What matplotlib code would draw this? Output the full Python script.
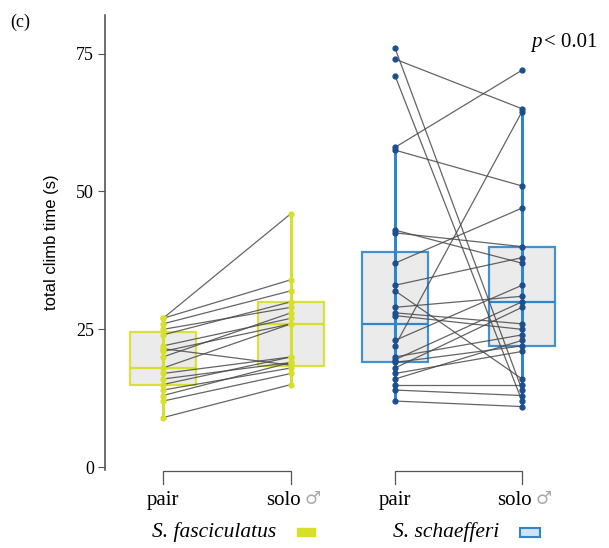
import matplotlib
matplotlib.use("Agg")
import matplotlib.pyplot as plt
from matplotlib.patches import Rectangle

# paired climb times (s): pair trial vs solo male
fas_pair = [27, 27, 26, 25, 24, 22, 21, 20, 21.5, 18, 17, 16, 15, 14, 13, 12, 9]
fas_solo = [46, 34, 32, 29, 30, 27, 26, 28, 18.5, 26, 20, 19, 20, 18, 19, 17, 15]

sch_pair = [76, 74, 71, 58, 57.5, 43, 42.5, 37, 33, 32, 29, 28, 27.5, 23,
            22, 20, 19.5, 19, 18, 17, 16, 15, 14, 12]
sch_solo = [14, 65, 12, 72, 51, 37, 40, 47, 38, 16, 31, 26, 25, 33,
            64.5, 24, 30, 22, 29, 21, 23, 15, 13, 11]

# box summaries: q1, median, q3, whisker low, whisker high
fas_box = {"pair": [15, 18, 24.5, 9, 27], "solo": [18.3, 26, 30, 15, 46]}
sch_box = {"pair": [19, 26, 39, 12, 58], "solo": [22, 30, 40, 11, 65]}

groups = ["pair", "solo"]
species = ["S. fasciculatus", "S. schaefferi"]

yellow = "#d8df2a"
blue = "#2f86cc"
dark_blue = "#1d4f8f"
box_face = "#e9e9e9"

fig = plt.figure(figsize=(6.09, 5.48), dpi=100)
ax = fig.add_axes([105 / 609, 1 - 470 / 548, 504 / 609, 455 / 548])

pos = [[0, 1], [1.8125, 2.805]]
sets = [(fas_pair, fas_solo, fas_box, yellow, yellow),
        (sch_pair, sch_solo, sch_box, blue, dark_blue)]

for (p, s, box, col, pcol), (x0, x1) in zip(sets, pos):
    stats = []
    for g in groups:
        q1, med, q3, lo, hi = box[g]
        stats.append(dict(q1=q1, med=med, q3=q3, whislo=lo, whishi=hi, fliers=[]))
    ax.bxp(stats, positions=[x0, x1], widths=0.52, patch_artist=True,
           showcaps=False, manage_ticks=False,
           boxprops=dict(facecolor=box_face, edgecolor=col, linewidth=1.6, alpha=0.9),
           medianprops=dict(color=col, linewidth=1.6),
           whiskerprops=dict(color=col, linewidth=2))
    for g, x in zip(groups, (x0, x1)):
        q1, med, q3, lo, hi = box[g]
        ax.vlines(x, lo, hi, color=col, linewidth=2.2, zorder=3)
    for a, b in zip(p, s):
        ax.plot([x0, x1], [a, b], color="#4a4a4a", linewidth=0.9, alpha=0.85, zorder=4)
    ax.plot([x0] * len(p), p, "o", color=pcol, markersize=3.5, zorder=5)
    ax.plot([x1] * len(s), s, "o", color=pcol, markersize=3.5, zorder=5)

ax.set_xlim(-0.453, 3.484)
ax.set_ylim(-0.5, 82)
ax.set_yticks([0, 25, 50, 75])
ax.set_yticklabels(["0", "25", "50", "75"], fontfamily="Liberation Serif", fontsize=13)
ax.set_xticks([])
for side in ["top", "right", "bottom"]:
    ax.spines[side].set_visible(False)
ax.spines["left"].set_color("#555555")
ax.spines["left"].set_linewidth(1.2)
ax.tick_params(axis="y", direction="out", length=5, color="#555555", pad=3)
ax.set_ylabel("total climb time (s)", fontfamily="Liberation Sans", fontsize=12, labelpad=12)

# brackets and group labels under each species
for (x0, x1), name in zip(pos, species):
    ax.plot([x0, x0, x1, x1], [-3.0, -0.6, -0.6, -3.0], color="#555555",
            linewidth=0.9, clip_on=False)
    ax.text(x0, -6.0, "pair", ha="center", va="center",
            fontfamily="Liberation Serif", fontsize=15)
    ax.text(x1 - 0.06, -6.0, "solo", ha="center", va="center",
            fontfamily="Liberation Serif", fontsize=15)
    ax.text(x1 + 0.17, -5.8, "\u2642", ha="center", va="center",
            fontfamily="DejaVu Sans", fontsize=13, color="#aaaaaa")
    ax.text((x0 + x1) / 2 - 0.1, -11.8, name, ha="center", va="center",
            fontfamily="Liberation Serif", fontstyle="italic", fontsize=15.5)

# small key swatches after the species names
fig.add_artist(Rectangle((297 / 609, 1 - 536 / 548), 18 / 609, 8 / 548,
                         facecolor=yellow, edgecolor=yellow, linewidth=1))
fig.add_artist(Rectangle((520 / 609, 1 - 537 / 548), 20 / 609, 9 / 548,
                         facecolor="#cfe3f3", edgecolor=blue, linewidth=1.5))

fig.text(10 / 609, 1 - 22 / 548, "(c)", fontfamily="Liberation Serif", fontsize=13,
         ha="left", va="center")
ax.text(2.88, 77.0, "p", fontfamily="Liberation Serif", fontstyle="italic",
        fontsize=15, ha="left", va="center")
ax.text(2.98, 77.0, "< 0.01", fontfamily="Liberation Serif", fontsize=15,
        ha="left", va="center")

fig.savefig("out.png", dpi=100)
